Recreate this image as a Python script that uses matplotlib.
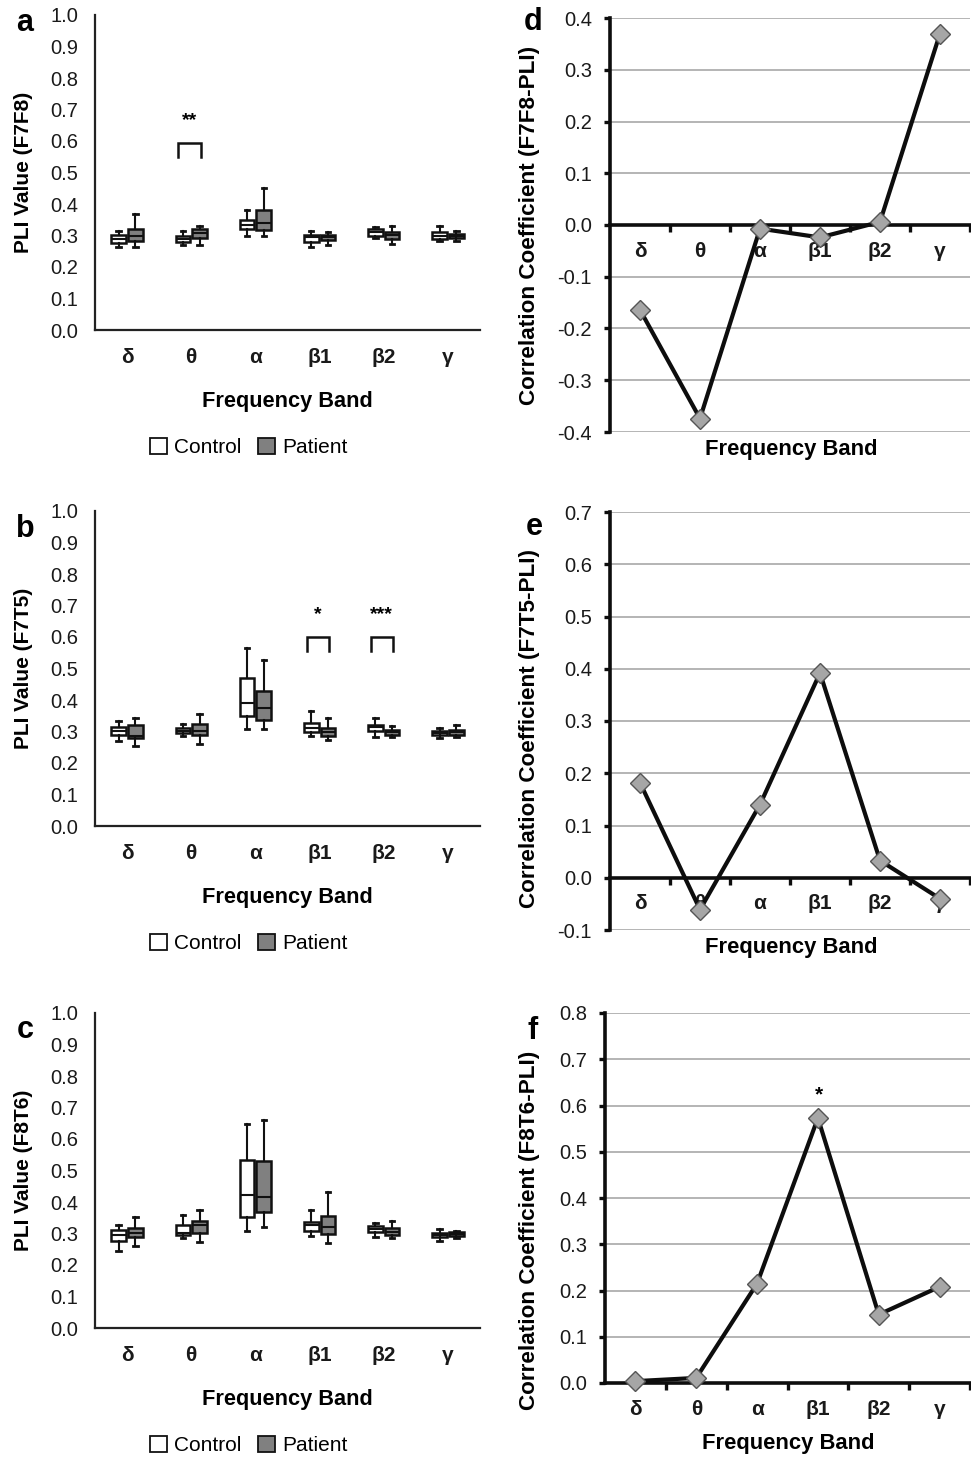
import matplotlib
matplotlib.use("Agg")
import matplotlib.pyplot as plt
from matplotlib.patches import Patch

plt.rcParams['font.family'] = ['Liberation Sans', 'DejaVu Sans']

bands = ['δ', 'θ', 'α', 'β1', 'β2', 'γ']

# five-number summaries per band: [whisker low, Q1, median, Q3, whisker high]
f7f8_control = [[0.264, 0.275, 0.288, 0.302, 0.315],
                [0.271, 0.278, 0.290, 0.300, 0.313],
                [0.299, 0.320, 0.334, 0.349, 0.381],
                [0.263, 0.280, 0.294, 0.303, 0.313],
                [0.292, 0.300, 0.311, 0.320, 0.328],
                [0.283, 0.290, 0.300, 0.310, 0.330]]
f7f8_patient = [[0.262, 0.282, 0.298, 0.320, 0.368],
                [0.270, 0.293, 0.307, 0.320, 0.330],
                [0.299, 0.317, 0.341, 0.381, 0.451],
                [0.270, 0.286, 0.296, 0.303, 0.311],
                [0.272, 0.290, 0.301, 0.312, 0.330],
                [0.283, 0.291, 0.298, 0.306, 0.315]]
f7t5_control = [[0.269, 0.290, 0.303, 0.314, 0.332],
                [0.287, 0.294, 0.303, 0.311, 0.324],
                [0.307, 0.348, 0.390, 0.470, 0.566],
                [0.287, 0.298, 0.312, 0.327, 0.366],
                [0.284, 0.303, 0.313, 0.322, 0.343],
                [0.280, 0.289, 0.296, 0.303, 0.312]]
f7t5_patient = [[0.255, 0.279, 0.286, 0.320, 0.342],
                [0.260, 0.290, 0.303, 0.324, 0.356],
                [0.307, 0.338, 0.376, 0.429, 0.528],
                [0.272, 0.285, 0.297, 0.310, 0.342],
                [0.284, 0.290, 0.297, 0.305, 0.316],
                [0.281, 0.289, 0.299, 0.306, 0.320]]
f8t6_control = [[0.244, 0.275, 0.295, 0.311, 0.328],
                [0.285, 0.295, 0.303, 0.328, 0.358],
                [0.308, 0.352, 0.421, 0.533, 0.648],
                [0.293, 0.308, 0.328, 0.338, 0.376],
                [0.290, 0.305, 0.315, 0.325, 0.332],
                [0.275, 0.288, 0.295, 0.302, 0.313]]
f8t6_patient = [[0.261, 0.289, 0.303, 0.316, 0.351],
                [0.274, 0.301, 0.326, 0.339, 0.376],
                [0.322, 0.367, 0.416, 0.530, 0.661],
                [0.270, 0.300, 0.320, 0.355, 0.432],
                [0.286, 0.295, 0.306, 0.316, 0.340],
                [0.286, 0.291, 0.299, 0.305, 0.309]]

# significance brackets: (band index, bracket top, label)
f7f8_sig = [(1, 0.593, '**')]
f7t5_sig = [(3, 0.599, '*'), (4, 0.599, '***')]
f8t6_sig = []

corr_f7f8 = [-0.164, -0.374, -0.007, -0.024, 0.006, 0.370]
corr_f7t5 = [0.182, -0.061, 0.140, 0.392, 0.033, -0.040]
corr_f8t6 = [0.004, 0.011, 0.215, 0.573, 0.148, 0.208]
f8t6_corr_sig = [(3, '*')]

W, H = 971, 1457
fig = plt.figure(figsize=(W / 100, H / 100), dpi=100)


def fx(px):
    return px / W


def fy(py):
    return 1 - py / H


def box_panel(rect, ctrl, pat, sig, ylabel, letter, letter_xy):
    ax = fig.add_axes(rect)
    off = 0.13
    for data, face, d in ((ctrl, 'white', -off), (pat, '#808080', off)):
        stats = [dict(whislo=s[0], q1=s[1], med=s[2], q3=s[3], whishi=s[4], fliers=[])
                 for s in data]
        ax.bxp(stats, positions=[i + d for i in range(len(bands))], widths=0.23,
               patch_artist=True, showfliers=False,
               boxprops=dict(facecolor=face, edgecolor='#111111', linewidth=1.8),
               medianprops=dict(color='#111111', linewidth=1.5),
               whiskerprops=dict(color='#111111', linewidth=1.5),
               capprops=dict(color='#111111', linewidth=2.0),
               capwidths=0.07, manage_ticks=False)
    for i, top, lab in sig:
        ax.plot([i - 0.2, i - 0.2, i + 0.15, i + 0.15],
                [top - 0.043, top, top, top - 0.043], color='#111111', lw=1.8,
                solid_joinstyle='miter')
        ax.text(i - 0.03, top + 0.045, lab, ha='center', va='bottom', fontsize=14,
                fontweight='bold')
    ax.set_xlim(-0.5, 5.5)
    ax.set_ylim(0, 1.0)
    ax.set_yticks([k / 10 for k in range(11)])
    ax.set_yticklabels([f'{k / 10:.1f}' for k in range(11)])
    ax.set_xticks(range(len(bands)))
    ax.set_xticklabels(bands, fontweight='bold')
    ax.tick_params(axis='y', length=0, pad=12, labelsize=14.5, colors='#1a1a1a')
    ax.tick_params(axis='x', length=0, pad=13, labelsize=15, colors='#1a1a1a')
    for s in ('top', 'right'):
        ax.spines[s].set_visible(False)
    for s in ('left', 'bottom'):
        ax.spines[s].set_linewidth(1.6)
        ax.spines[s].set_color('#222222')
    ax.set_ylabel(ylabel, fontsize=15, fontweight='bold')
    ax.yaxis.set_label_coords(-0.161, 0.5)
    ax.set_xlabel('Frequency Band', fontsize=15.7, fontweight='bold', labelpad=17)
    handles = [Patch(facecolor='white', edgecolor='#111111', linewidth=1.3, label='Control'),
               Patch(facecolor='#808080', edgecolor='#111111', linewidth=1.3, label='Patient')]
    ax.legend(handles=handles, loc='center', bbox_to_anchor=(0.40, -0.372), ncol=2,
              frameon=False, fontsize=15, handlelength=0.8, handleheight=0.8,
              handletextpad=0.35, columnspacing=0.8)
    fig.text(fx(letter_xy[0]), fy(letter_xy[1]), letter, fontsize=22, fontweight='bold',
             ha='center', va='center')
    return ax


def corr_panel(rect, vals, ylim, ystep, ylabel, ylabel_xy, letter, letter_xy, sig=()):
    ax = fig.add_axes(rect)
    x = list(range(len(bands)))
    ax.plot(x, vals, color='#0d0d0d', lw=3, marker='D', ms=10, mfc='#a6a6a6',
            mec='#555555', mew=1.0, clip_on=False, zorder=5)
    for i, lab in sig:
        ax.text(i + 0.02, vals[i] + 0.03, lab, ha='center', va='bottom', fontsize=15,
                fontweight='bold')
    ax.set_xlim(-0.5, 5.5)
    ax.set_ylim(*ylim)
    n = int(round((ylim[1] - ylim[0]) / ystep))
    yt = [ylim[0] + k * ystep for k in range(n + 1)]
    ax.set_yticks(yt)
    ax.set_yticklabels([f'{v:.1f}' if abs(v) > 1e-9 else '0.0' for v in yt])
    ax.yaxis.grid(True, color='#a0a0a0', lw=1.1)
    ax.set_axisbelow(True)
    ax.spines['bottom'].set_position(('data', 0))
    for s in ('top', 'right'):
        ax.spines[s].set_visible(False)
    for s in ('left', 'bottom'):
        ax.spines[s].set_linewidth(2.6)
        ax.spines[s].set_color('#0d0d0d')
    ax.set_xticks(x)
    ax.set_xticklabels(bands, fontweight='bold')
    ax.set_xticks([i + 0.5 for i in range(len(bands))], minor=True)
    ax.tick_params(axis='x', which='major', length=0, pad=12, labelsize=15,
                   colors='#1a1a1a')
    ax.tick_params(axis='x', which='minor', length=5, width=2.4, direction='out',
                   color='#0d0d0d')
    ax.tick_params(axis='y', length=4, width=2.4, direction='out', pad=9,
                   labelsize=14.5, color='#0d0d0d', labelcolor='#1a1a1a')
    ax.set_ylabel(ylabel, fontsize=16.2, fontweight='bold')
    ax.yaxis.set_label_coords(*ylabel_xy)
    fig.text(fx(letter_xy[0]), fy(letter_xy[1]), letter, fontsize=22, fontweight='bold',
             ha='center', va='center')
    return ax


box_panel([fx(95), fy(330), fx(385), 315 / H], f7f8_control, f7f8_patient, f7f8_sig,
          'PLI Value (F7F8)', 'a', (25, 23))
box_panel([fx(95), fy(826), fx(385), 315 / H], f7t5_control, f7t5_patient, f7t5_sig,
          'PLI Value (F7T5)', 'b', (25, 529))
box_panel([fx(95), fy(1328), fx(385), 315 / H], f8t6_control, f8t6_patient, f8t6_sig,
          'PLI Value (F8T6)', 'c', (25, 1030))

corr_panel([fx(610), fy(432), fx(360), 414 / H], corr_f7f8, (-0.4, 0.4), 0.1,
           'Correlation Coefficient (F7F8-PLI)', (-0.195, 0.50), 'd', (533, 22))
fig.text(fx(791), fy(449), 'Frequency Band', fontsize=15.8, fontweight='bold',
         ha='center', va='center')
corr_panel([fx(610), fy(930), fx(360), 418 / H], corr_f7t5, (-0.1, 0.7), 0.1,
           'Correlation Coefficient (F7T5-PLI)', (-0.195, 0.483), 'e', (534, 527))
fig.text(fx(791), fy(947), 'Frequency Band', fontsize=15.8, fontweight='bold',
         ha='center', va='center')
corr_panel([fx(605), fy(1383), fx(365), 370 / H], corr_f8t6, (0.0, 0.8), 0.1,
           'Correlation Coefficient (F8T6-PLI)', (-0.178, 0.412), 'f', (533, 1031),
           sig=f8t6_corr_sig)
fig.text(fx(788), fy(1443), 'Frequency Band', fontsize=15.8, fontweight='bold',
         ha='center', va='center')

fig.savefig('out.png', dpi=100)
